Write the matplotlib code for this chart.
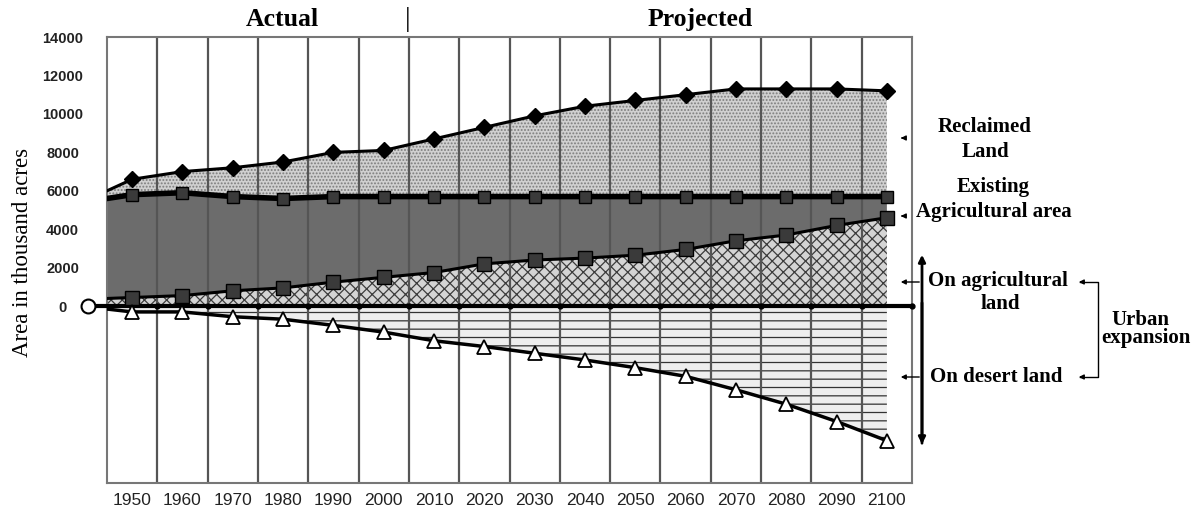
import numpy as np
import matplotlib.pyplot as plt

years = [1950, 1960, 1970, 1980, 1990, 2000, 2010, 2020, 2030, 2040,
         2050, 2060, 2070, 2080, 2090, 2100]

# top of reclaimed land (diamonds)
reclaimed = [6600, 7000, 7200, 7500, 8000, 8100, 8700, 9300, 9900, 10400,
             10700, 11000, 11300, 11300, 11300, 11200]
# existing agricultural area (squares, thick line)
existing = [5800, 5900, 5700, 5600, 5700, 5700, 5700, 5700, 5700, 5700,
            5700, 5700, 5700, 5700, 5700, 5700]
# urban expansion on agricultural land (squares)
urban_agri = [450, 550, 800, 950, 1250, 1500, 1750, 2200, 2400, 2500,
              2650, 2950, 3400, 3700, 4200, 4600]
# urban expansion on desert land (triangles)
urban_desert = [-300, -300, -550, -680, -1000, -1350, -1800, -2100, -2450, -2800,
                -3200, -3650, -4350, -5100, -6000, -7000]

# values where the lines start at the left border
reclaimed_start = 6000
existing_start = 5600
urban_agri_start = 400
urban_desert_start = -150

yticks = [0, 2000, 4000, 6000, 8000, 10000, 12000, 14000]

plt.rcParams['hatch.linewidth'] = 0.9

fig = plt.figure(figsize=(12.01, 5.12), dpi=100)
ax = fig.add_axes([0.0891, 0.0566, 0.6703, 0.8711])

n = len(years)
idx = np.arange(n)
xs = np.concatenate([[-0.5], idx])
rec = np.concatenate([[reclaimed_start], reclaimed])
ex = np.concatenate([[existing_start], existing])
ua = np.concatenate([[urban_agri_start], urban_agri])
ud = np.concatenate([[urban_desert_start], urban_desert])

# fills
ax.fill_between(xs, ex, rec, facecolor='#d0d0d0', edgecolor='#7c7c7c',
                hatch='.....', linewidth=0, zorder=1)
ax.fill_between(xs, ua, ex, facecolor='#6c6c6c', linewidth=0, zorder=1)
ax.fill_between(xs, 0, ua, facecolor='#d4d4d4', edgecolor='#3c3c3c',
                hatch='xxx', linewidth=0, zorder=1)
ax.fill_between(xs, ud, 0, facecolor='#eeeeee', edgecolor='#333333',
                hatch='--', linewidth=0, zorder=1)

# vertical grid lines between the years
for k in range(1, n):
    ax.axvline(k - 0.5, color='#555555', lw=1.6, zorder=2)

# lines
ax.plot(xs, rec, color='black', lw=2.2, zorder=4)
ax.plot(idx, reclaimed, 'D', color='black', ms=8, zorder=5)
ax.plot(xs, ex, color='black', lw=4, zorder=4)
ax.plot(idx, existing, 's', color='#3a3a3a', mec='black', ms=9, zorder=5)
ax.plot(xs, ua, color='black', lw=2.2, zorder=4)
ax.plot(idx, urban_agri, 's', color='#3a3a3a', mec='black', ms=10, zorder=5)
ax.plot(xs, ud, color='black', lw=2.5, zorder=4)
ax.plot(idx, urban_desert, '^', color='white', mec='black', mew=1.3, ms=10, zorder=5)

# zero line, starting outside the frame with an open circle
ax.axhline(0, xmin=-0.024, xmax=1.0, color='black', lw=3, clip_on=False, zorder=4)
ax.plot(np.arange(1, n + 1) - 0.5, np.zeros(n), 'o', color='black', ms=3.5,
        clip_on=False, zorder=5)
ax.plot([-0.5 - 0.024 * n], [0], 'o', mfc='white', mec='black', mew=1.5, ms=10,
        clip_on=False, zorder=6)

ax.set_xlim(-0.5, n - 0.5)
ax.set_ylim(-9200, 14000)
ax.set_yticks(yticks)
ax.set_yticklabels([str(v) for v in yticks], family='Liberation Sans',
                   fontsize=10.5, fontweight='bold', color='#222222', ha='center')
ax.set_xticks(idx)
ax.set_xticklabels([str(y) for y in years], family='Liberation Sans',
                   fontsize=12.5, color='#222222')
ax.tick_params(axis='both', length=0)
ax.tick_params(axis='y', pad=32)
ax.tick_params(axis='x', pad=7)
for s in ax.spines.values():
    s.set_color('#777777')
    s.set_linewidth(1.5)

serif = 'Liberation Serif'
fig.text(0.019, 0.506, 'Area in thousand acres', family=serif, fontsize=16.5,
         rotation=90, ha='center', va='center')

fig.text(0.235, 0.962, 'Actual', family=serif, fontsize=18.5, fontweight='bold',
         ha='center', va='center')
fig.text(0.583, 0.962, 'Projected', family=serif, fontsize=18.5, fontweight='bold',
         ha='center', va='center')
fig.text(0.3395, 0.962, '|', family=serif, fontsize=20, ha='center', va='center')

# right-side annotations (in pixel coords of the figure)
def fx(px):
    return px / 1201.0

def fy(py):
    return 1 - py / 512.0

tkw = dict(family=serif, fontsize=15, fontweight='bold', ha='center', va='center')
fig.text(fx(985), fy(127), 'Reclaimed', **tkw)
fig.text(fx(985), fy(152), 'Land', **tkw)
fig.text(fx(993), fy(187), 'Existing', **tkw)
fig.text(fx(994), fy(212), 'Agricultural area', **tkw)
fig.text(fx(998), fy(281), 'On agricultural', **tkw)
fig.text(fx(1000), fy(304), 'land', **tkw)
fig.text(fx(996), fy(377), 'On desert land', **tkw)
fig.text(fx(1140), fy(320), 'Urban', **tkw)
fig.text(fx(1146), fy(338), 'expansion', **tkw)

akw = dict(arrowstyle='-|>', color='black', lw=1, mutation_scale=7)
def arrow(x0, y0, x1, y1, **kw):
    a = dict(akw)
    a.update(kw)
    ax.annotate('', xy=(fx(x1), fy(y1)), xytext=(fx(x0), fy(y0)),
                xycoords='figure fraction', textcoords='figure fraction',
                arrowprops=a, annotation_clip=False)

arrow(906, 138, 898, 138)
arrow(906, 216, 898, 216)
arrow(922, 282, 898, 282)
arrow(922, 377, 898, 377)
# big vertical double arrow
arrow(922, 446, 922, 252, lw=2, mutation_scale=10)
arrow(922, 300, 922, 447, lw=2, mutation_scale=10)
# bracket for urban expansion
fig.add_artist(plt.Line2D([fx(1080), fx(1098), fx(1098), fx(1080)],
                          [fy(282), fy(282), fy(377), fy(377)],
                          color='black', lw=1))
arrow(1086, 282, 1076, 282)
arrow(1086, 377, 1076, 377)

fig.savefig('out.png', dpi=100)
